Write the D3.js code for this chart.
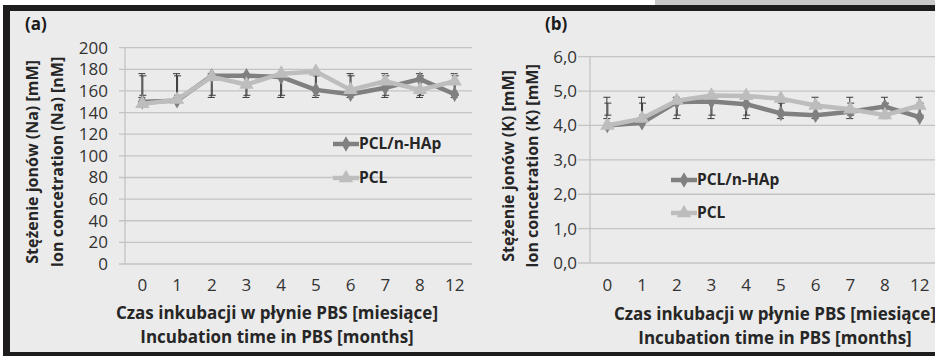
<!DOCTYPE html>
<html><head><meta charset="utf-8">
<script src="https://d3js.org/d3.v7.min.js"></script>
<style>
html,body{margin:0;padding:0;background:#fff;}
svg{display:block;font-family:"Open Sans",sans-serif;}
</style></head>
<body><svg id="c" width="935" height="356"></svg>
<script>
// ---- data ----
const months = ["0","1","2","3","4","5","6","7","8","12"];
const seriesNames = ["PCL/n-HAp","PCL"];
// Panel (a): Na
const naHAp = [150,151,174,174,173,161,157,163,171,157];
const naPCL = [148,152,173,166,176,178,161,169,161,169];
const naHApLow  = [154,154,154,154,154,154,154,154,154,154];
const naHApHigh = [176,176,176,176,176,176,176,176,176,176];
const naPCLLow  = [156,156,156,156,156,156,156,156,156,156];
const naPCLHigh = [174,174,174,174,174,174,174,174,174,174];
const naTicks = [0,20,40,60,80,100,120,140,160,180,200];
// Panel (b): K
const kHAp = [4.0,4.08,4.68,4.7,4.62,4.35,4.3,4.4,4.55,4.24];
const kPCL = [4.0,4.2,4.72,4.87,4.86,4.78,4.58,4.47,4.3,4.58];
const kHApLow  = [4.2,4.2,4.2,4.2,4.2,4.2,4.2,4.2,4.2,4.2];
const kHApHigh = [4.82,4.82,4.82,4.82,4.82,4.82,4.82,4.82,4.82,4.82];
const kPCLLow  = [4.3,4.3,4.3,4.3,4.3,4.3,4.3,4.3,4.3,4.3];
const kPCLHigh = [4.65,4.65,4.65,4.65,4.65,4.65,4.65,4.65,4.65,4.65];
const kTicks = [0,1,2,3,4,5,6];

const svg = d3.select("#c");
// frame
svg.append("rect").attr("x",0).attr("y",0).attr("width",935).attr("height",356).attr("fill","#fff");
svg.append("rect").attr("x",655).attr("y",0).attr("width",280).attr("height",6).attr("fill","#c9c9c9");
svg.append("rect").attr("x",3).attr("y",5).attr("width",932).attr("height",351).attr("fill","#1e1c1c");
svg.append("rect").attr("x",10).attr("y",11).attr("width",925).attr("height",341).attr("fill","#ebebeb");

const commaLocale = d3.formatLocale({decimal:",",thousands:" ",grouping:[3],currency:["",""]});

const colDark = "#808080", colLight = "#bdbdbd";
const tickFont = "17px", titleFont = "17px";

function drawPanel(cfg){
  const g = svg.append("g");
  const x = d3.scaleBand().domain(months).range([cfg.x0, cfg.x0 + cfg.w]).paddingInner(0).paddingOuter(0);
  const y = d3.scaleLinear().domain(cfg.domain).range([cfg.yBottom, cfg.yTop]);
  const cx = d => x(d) + x.bandwidth()/2;

  // gridlines + y axis
  const ax = d3.axisLeft(y).tickValues(cfg.ticks).tickSize(0).tickPadding(cfg.labelGap).tickFormat(cfg.fmt);
  const ay = g.append("g").attr("transform",`translate(${cfg.x0},0)`).call(ax);
  ay.select(".domain").remove();
  ay.selectAll("text").attr("fill","#333").style("font-size",tickFont).style("font-family","'Open Sans',sans-serif");
  g.append("g").selectAll("line").data(cfg.ticks).join("line")
    .attr("x1", cfg.x0 - cfg.tickLen).attr("x2", cfg.gridEnd)
    .attr("y1", d=>y(d)).attr("y2", d=>y(d))
    .attr("stroke","#c4c4c4").attr("stroke-width",1.3);
  g.append("line").attr("x1",cfg.x0).attr("x2",cfg.x0).attr("y1",y(cfg.domain[0])).attr("y2",y(cfg.domain[1]))
    .attr("stroke","#c4c4c4").attr("stroke-width",1.3);

  // x axis labels
  const xa = d3.axisBottom(x).tickSize(0).tickPadding(cfg.xLabelPad);
  const axg = g.append("g").attr("transform",`translate(0,${cfg.yBottom})`).call(xa);
  axg.select(".domain").remove();
  axg.selectAll("text").attr("fill","#333").style("font-size",tickFont).style("font-family","'Open Sans',sans-serif");

  // error bars
  const errs = [[cfg.lowA, cfg.highA],[cfg.lowB, cfg.highB]];
  errs.forEach(([lo,hi],si)=>{
    const eg = g.append("g");
    months.forEach((m,i)=>{
      const xx = cx(m) + (si===0 ? -0.5 : 0.5);
      eg.append("line").attr("x1",xx).attr("x2",xx).attr("y1",y(lo[i])).attr("y2",y(hi[i])).attr("stroke","#3a3a3a").attr("stroke-width",1);
      [lo[i],hi[i]].forEach(v=>{
        eg.append("line").attr("x1",xx-3.5).attr("x2",xx+3.5).attr("y1",y(v)).attr("y2",y(v)).attr("stroke","#3a3a3a").attr("stroke-width",1);
      });
    });
  });

  const line = d3.line().x((d,i)=>cx(months[i])).y(d=>y(d));
  const series = [
    {vals:cfg.a, color:colDark, sym:d3.symbolDiamond, size:70},
    {vals:cfg.b, color:colLight, sym:d3.symbolTriangle, size:90}
  ];
  series.forEach(s=>{
    g.append("path").datum(s.vals).attr("d",line).attr("fill","none").attr("stroke",s.color)
      .attr("stroke-width",4.5).attr("stroke-linejoin","round");
    g.append("g").selectAll("path").data(s.vals).join("path")
      .attr("transform",(d,i)=>`translate(${cx(months[i])},${y(d)})`)
      .attr("d", d3.symbol().type(s.sym).size(s.size)).attr("fill",s.color);
  });

  // legend
  series.forEach((s,i)=>{
    const ly = cfg.legY[i];
    g.append("line").attr("x1",cfg.legX).attr("x2",cfg.legX+26).attr("y1",ly).attr("y2",ly)
      .attr("stroke",s.color).attr("stroke-width",4.5);
    g.append("path").attr("transform",`translate(${cfg.legX+13},${ly})`)
      .attr("d", d3.symbol().type(s.sym).size(s.size)).attr("fill",s.color);
    g.append("text").attr("x",cfg.legX+26).attr("y",ly).attr("dy","0.35em")
      .attr("fill","#262626").style("font-size","15.5px").style("font-weight","bold").text(seriesNames[i]);
  });

  // panel label
  g.append("text").attr("x",cfg.labX).attr("y",24).attr("dy","0.35em").attr("fill","#1a1a1a")
    .style("font-size","17px").style("font-weight","bold").text(cfg.label);

  // y titles
  cfg.yTitles.forEach((t,i)=>{
    g.append("text").attr("transform",`translate(${cfg.yTitleX[i]},${cfg.yTitleY}) rotate(-90)`)
      .attr("text-anchor","middle").attr("dy","0.35em").attr("fill","#262626")
      .style("font-size","16px").style("font-weight","bold").text(t);
  });
  // x titles
  cfg.xTitles.forEach((t,i)=>{
    g.append("text").attr("x",cfg.xTitleX).attr("y",cfg.xTitleY[i]).attr("dy","0.35em")
      .attr("text-anchor","middle").attr("fill","#262626")
      .style("font-size",titleFont).style("font-weight","bold").text(t);
  });
}

drawPanel({
  x0:125, w:347, gridEnd:472, yTop:47.7, yBottom:264, domain:[0,200], ticks:naTicks,
  fmt:d3.format("d"), tickLen:6, labelGap:17, xLabelPad:15,
  a:naHAp, b:naPCL, lowA:naHApLow, highA:naHApHigh, lowB:naPCLLow, highB:naPCLHigh,
  legX:333, legY:[144,178], label:"(a)", labX:25,
  yTitles:["Stężenie jonów (Na) [mM]","Ion concetration (Na) [nM]"], yTitleX:[32,57], yTitleY:162,
  xTitles:["Czas inkubacji w płynie PBS [miesiące]","Incubation time in PBS [months]"], xTitleX:277, xTitleY:[313,337]
});
drawPanel({
  x0:590, w:347, gridEnd:935, yTop:56.7, yBottom:263, domain:[0,6], ticks:kTicks,
  fmt:commaLocale.format(".1f"), tickLen:12, labelGap:13, xLabelPad:16,
  a:kHAp, b:kPCL, lowA:kHApLow, highA:kHApHigh, lowB:kPCLLow, highB:kPCLHigh,
  legX:671, legY:[180,213], label:"(b)", labX:545,
  yTitles:["Stężenie jonów (K) [mM]","Ion concetration (K) [mM]"], yTitleX:[508,532], yTitleY:166,
  xTitles:["Czas inkubacji w płynie PBS [miesiące]","Incubation time in PBS [months]"], xTitleX:775, xTitleY:[314,338]
});
</script></body></html>
